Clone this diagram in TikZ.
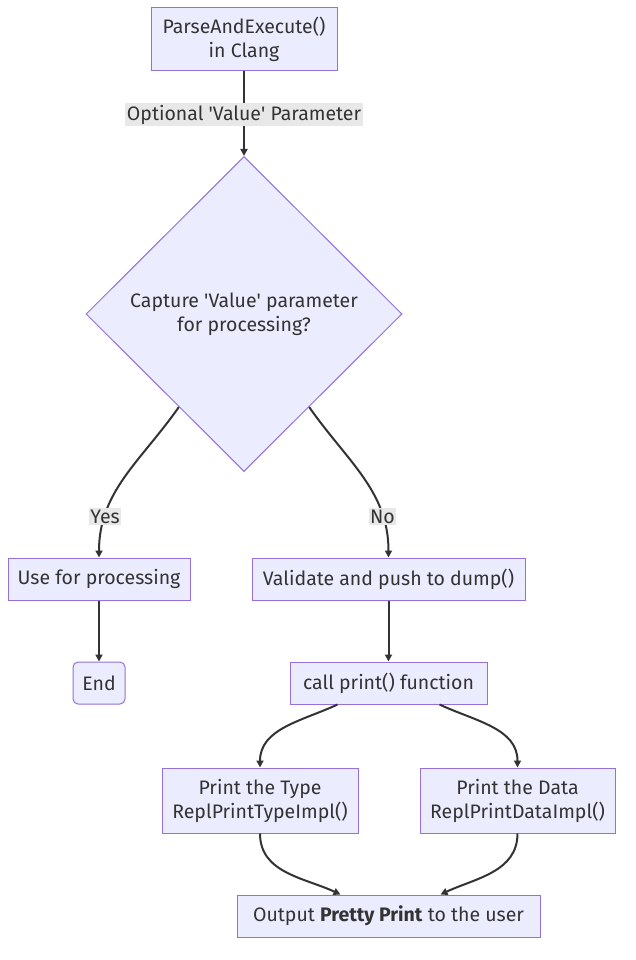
\documentclass[tikz,border=0pt]{standalone}
\usepackage{fontspec}
\setmainfont{Fira Sans}
\usetikzlibrary{shapes.geometric,arrows.meta}
\definecolor{boxfill}{HTML}{ECECFF}
\definecolor{boxline}{HTML}{9370DB}
\definecolor{ink}{HTML}{333333}
\definecolor{lblbg}{HTML}{E8E8E8}
\begin{document}
\begin{tikzpicture}
  [x=1pt,y=1pt,font=\fontsize{19.5}{24}\selectfont,text=ink,
   box/.style={rectangle,draw=boxline,fill=boxfill,line width=1pt,align=center,inner sep=0pt},
   ask/.style={diamond,draw=boxline,fill=boxfill,line width=1pt,align=center,inner sep=0pt,minimum width=316pt,minimum height=315pt},
   lbl/.style={fill=lblbg,inner sep=1.5pt,text=ink},
   edge/.style={draw=ink,line width=2pt,-{Triangle[length=7pt,width=7pt]}}]
  \useasboundingbox (0,0) rectangle (636,-960);
  \node[box,minimum width=186pt,minimum height=63pt] (n1) at (244,-39.5) {ParseAndExecute()\\in Clang};
  \node[ask] (n2) at (244,-314) {Capture \textquotesingle Value\textquotesingle{} parameter\\for processing?};
  \node[box,minimum width=182pt,minimum height=42pt] (n3) at (99,-579) {Use for processing};
  \node[box,minimum width=273pt,minimum height=42pt] (n4) at (388.5,-579) {Validate and push to dump()};
  \node[box,rounded corners=5pt,minimum width=52pt,minimum height=42pt] (n5) at (99,-683) {End};
  \node[box,minimum width=197pt,minimum height=42pt] (n6) at (388.5,-683) {call print() function};
  \node[box,minimum width=196pt,minimum height=65pt] (n7) at (260,-800.5) {Print the Type\\ReplPrintTypeImpl()};
  \node[box,minimum width=195pt,minimum height=65pt] (n8) at (517.5,-800.5) {Print the Data\\ReplPrintDataImpl()};
  \node[box,minimum width=303pt,minimum height=42pt] (n9) at (388.5,-916) {Output \textbf{Pretty Print} to the user};

  \draw[edge] (n1) -- node[lbl,pos=0.51] (l1) {Optional \textquotesingle Value\textquotesingle{} Parameter} (n2);
  \draw[edge] (n2) to[out=-125,in=90] node[lbl,pos=0.77] (l2) {Yes} (n3);
  \draw[edge] (n2) to[out=-55,in=90] node[lbl,pos=0.77] (l3) {No} (n4);
  \foreach \from/\to in {n3/n5,n4/n6}
    \draw[edge] (\from) -- (\to);
  \draw[edge] (n6.south) ++(-51,0) coordinate (c1) (c1) to[out=-155,in=90] (n7);
  \draw[edge] (n6.south) ++(51,0) coordinate (c2) (c2) to[out=-25,in=90] (n8);
  \draw[edge] (n7) to[out=-90,in=155] ([xshift=-48pt]n9.north);
  \draw[edge] (n8) to[out=-90,in=25] ([xshift=52pt]n9.north);
\end{tikzpicture}
\end{document}
